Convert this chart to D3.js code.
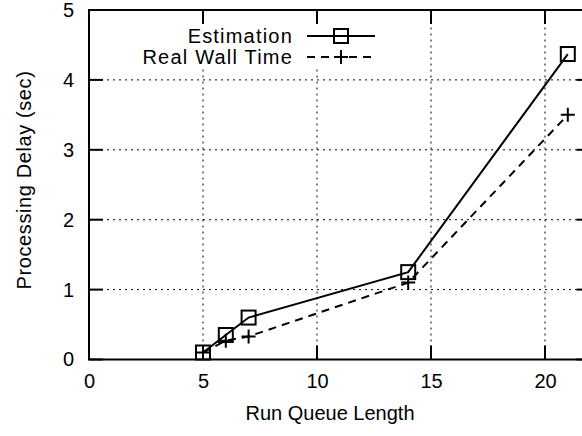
<!DOCTYPE html>
<html><head><meta charset="utf-8">
<script src="https://cdn.jsdelivr.net/npm/d3@7/dist/d3.min.js"></script>
<style>body{margin:0;background:#fff}svg{display:block;font-family:"Liberation Sans",Arial,sans-serif}</style>
</head><body>
<svg id="c" width="582" height="436"></svg>
<script>
const runQueue = [5, 6, 7, 14, 21];
const estimation = [0.1, 0.35, 0.6, 1.25, 4.37];
const realWall = [0.1, 0.27, 0.33, 1.1, 3.5];
const xTicks = [0, 5, 10, 15, 20];
const yTicks = [0, 1, 2, 3, 4, 5];
const seriesNames = ["Estimation", "Real Wall Time"];

const svg = d3.select("#c");
const FS = 20;
const L = 89, T = 10, B = 359.5;
const x = d3.scaleLinear().domain([0, 22]).range([L, L + 22 * 22.8]);
const y = d3.scaleLinear().domain([0, 5]).range([B, T]);
const R = x(22);
const tick = 14;

// grid
const g = svg.append("g");
g.selectAll(".gx").data(xTicks.filter(d => d > 0)).join("line")
  .attr("x1", d => x(d)).attr("x2", d => x(d)).attr("y1", B).attr("y2", T)
  .attr("stroke", "#000").attr("stroke-width", 1).attr("stroke-dasharray", "2,4");
g.selectAll(".gy").data(yTicks.filter(d => d > 0 && d < 5)).join("line")
  .attr("x1", L).attr("x2", R).attr("y1", d => y(d)).attr("y2", d => y(d))
  .attr("stroke", "#000").attr("stroke-width", 1).attr("stroke-dasharray", "2,4");

// legend background
svg.append("rect").attr("x", 132).attr("y", 23).attr("width", 250).attr("height", 46).attr("fill", "#fff");

// axes
const xAxisB = d3.axisBottom(x).tickValues(xTicks).tickFormat(d3.format("d")).tickSize(0).tickPadding(14);
const yAxisL = d3.axisLeft(y).tickValues(yTicks).tickFormat(d3.format("d")).tickSize(0).tickPadding(15);
const ax = svg.append("g").attr("transform", `translate(0,${B})`).call(xAxisB);
const ay = svg.append("g").attr("transform", `translate(${L},0)`).call(yAxisL);
[ax, ay].forEach(a => { a.select(".domain").remove(); a.selectAll("text").attr("font-size", FS).attr("fill", "#000").attr("font-family", "Liberation Sans, Arial, sans-serif"); });

// tick marks (inward, mirrored)
const tm = svg.append("g").attr("stroke", "#000").attr("stroke-width", 2);
xTicks.forEach(d => {
  tm.append("line").attr("x1", x(d)).attr("x2", x(d)).attr("y1", B).attr("y2", B - tick);
  tm.append("line").attr("x1", x(d)).attr("x2", x(d)).attr("y1", T).attr("y2", T + tick);
});
yTicks.forEach(d => {
  tm.append("line").attr("x1", L).attr("x2", L + tick).attr("y1", y(d)).attr("y2", y(d));
  tm.append("line").attr("x1", R).attr("x2", R - tick).attr("y1", y(d)).attr("y2", y(d));
});

// frame
svg.append("rect").attr("x", L).attr("y", T).attr("width", R - L).attr("height", B - T)
  .attr("fill", "none").attr("stroke", "#000").attr("stroke-width", 2);

// series
const line = d3.line().x(d => x(d[0])).y(d => y(d[1]));
const estPts = runQueue.map((v, i) => [v, estimation[i]]);
const realPts = runQueue.map((v, i) => [v, realWall[i]]);
svg.append("path").datum(estPts).attr("d", line).attr("fill", "none").attr("stroke", "#000").attr("stroke-width", 2);
svg.append("path").datum(realPts).attr("d", line).attr("fill", "none").attr("stroke", "#000").attr("stroke-width", 2).attr("stroke-dasharray", "8,6");

function square(sel, cx, cy) {
  sel.append("rect").attr("x", cx - 7).attr("y", cy - 7).attr("width", 14).attr("height", 14)
    .attr("fill", "none").attr("stroke", "#000").attr("stroke-width", 2);
}
function plus(sel, cx, cy) {
  sel.append("path").attr("d", `M${cx - 7},${cy}H${cx + 7}M${cx},${cy - 7}V${cy + 7}`)
    .attr("stroke", "#000").attr("stroke-width", 2);
}
const mk = svg.append("g");
estPts.forEach(p => square(mk, x(p[0]), y(p[1])));
realPts.forEach(p => plus(mk, x(p[0]), y(p[1])));

// legend
const lg = svg.append("g").attr("font-size", FS).attr("letter-spacing", "1.2px");
const ly = [36, 57];
lg.append("text").attr("x", 293).attr("y", ly[0]).attr("dy", "0.35em").attr("text-anchor", "end").text(seriesNames[0]);
lg.append("text").attr("x", 293).attr("y", ly[1]).attr("dy", "0.35em").attr("text-anchor", "end").text(seriesNames[1]);
lg.append("line").attr("x1", 307).attr("x2", 375).attr("y1", ly[0]).attr("y2", ly[0]).attr("stroke", "#000").attr("stroke-width", 2);
lg.append("line").attr("x1", 307).attr("x2", 375).attr("y1", ly[1]).attr("y2", ly[1]).attr("stroke", "#000").attr("stroke-width", 2).attr("stroke-dasharray", "8,6");
square(lg, 341, ly[0]);
plus(lg, 341, ly[1]);

// titles
svg.append("text").attr("x", 330).attr("y", 413).attr("dy", "0.35em").attr("text-anchor", "middle").attr("font-size", FS).text("Run Queue Length");
svg.append("text").attr("transform", `translate(24,180) rotate(-90)`).attr("dy", "0.35em").attr("text-anchor", "middle").attr("font-size", FS).attr("letter-spacing", "0.6px").text("Processing Delay (sec)");
</script>
</body></html>
